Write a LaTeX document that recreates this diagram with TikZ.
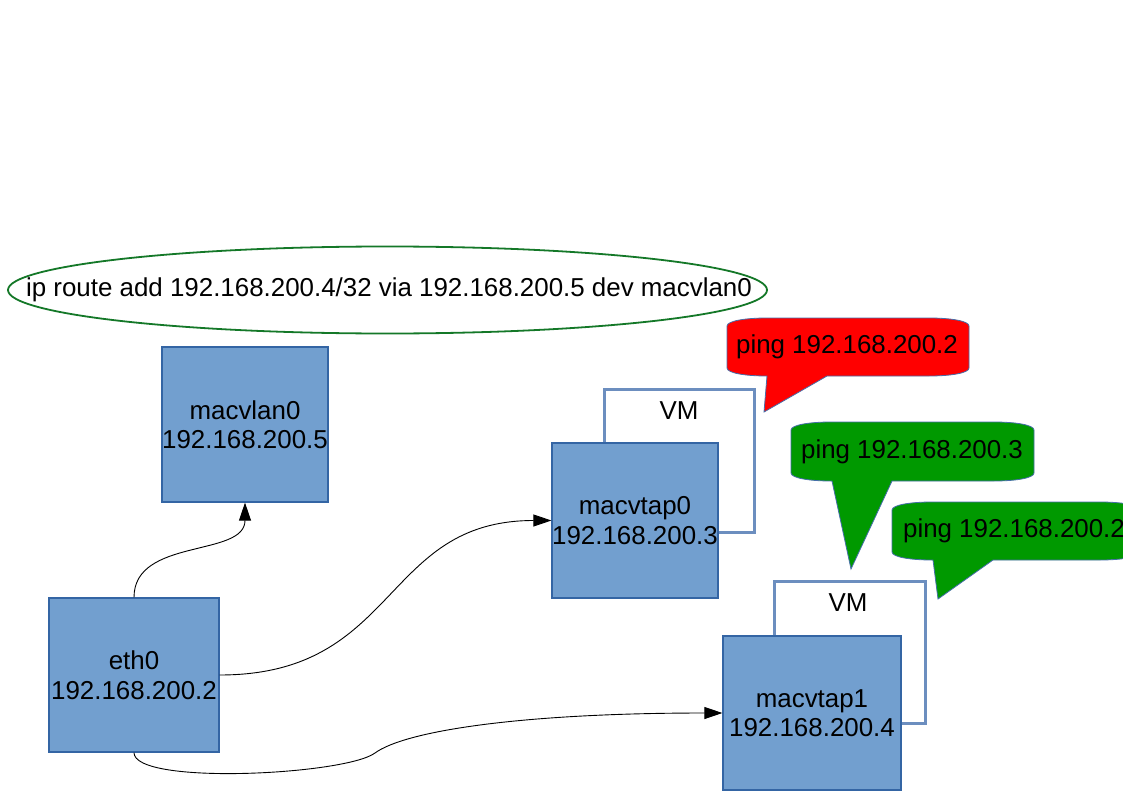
\documentclass[tikz,border=0pt]{standalone}
\usepackage{fontspec}
\setmainfont{Liberation Sans}
\usetikzlibrary{arrows.meta}
\definecolor{boxfill}{RGB}{114,159,207}
\definecolor{boxline}{RGB}{52,101,164}
\definecolor{vmline}{RGB}{108,142,191}
\definecolor{ellline}{RGB}{20,120,40}
\definecolor{pingred}{RGB}{255,0,0}
\definecolor{pinggreen}{RGB}{0,153,0}
\definecolor{calloutline}{RGB}{70,110,170}
% #1 style, #2 left, #3 top, #4 right, #5 bottom, #6 tail left, #7 tail right, #8 tip x, #9 tip y
\newcommand{\callbubble}[9]{%
  \path[#1] (#2,#3+8) .. controls (#2,#3+3) and (#2+18,#3) .. (#2+40,#3)
    -- (#4-40,#3) .. controls (#4-18,#3) and (#4,#3+3) .. (#4,#3+8)
    -- (#4,#5-8) .. controls (#4,#5-3) and (#4-18,#5) .. (#4-40,#5)
    -- (#7,#5) -- (#8,#9) -- (#6,#5) -- (#2+40,#5)
    .. controls (#2+18,#5) and (#2,#5-3) .. (#2,#5-8) -- cycle;}
\begin{document}
\begin{tikzpicture}[x=1pt,y=-1pt,
  every node/.style={font=\fontsize{25.9}{29.5}\selectfont, text=black, align=center},
  netbox/.style={draw=boxline, line width=1.2pt, fill=boxfill, inner sep=0pt},
  vmbox/.style={draw=vmline, line width=3pt, fill=white, inner sep=0pt},
  conn/.style={draw=black, line width=0.9pt, -{Triangle[length=18pt,width=12pt]}},
  redcall/.style={fill=pingred, draw=calloutline, line width=0.8pt},
  greencall/.style={fill=pinggreen, draw=calloutline, line width=0.8pt},
  routeline/.style={draw=ellline, line width=1.8pt}]
\useasboundingbox[fill=white] (0,0) rectangle (1123,794);

% route ellipse
\draw[routeline] (387.5,290) ellipse [x radius=379.5pt, y radius=43.5pt];
\node (route) at (389,290) {ip route add 192.168.200.4/32 via 192.168.200.5 dev macvlan0};

% VM frames
\node[vmbox, minimum width=150pt, minimum height=143pt] (vm1) at (679,460.5) {};
\node (vm1label) at (679,411) {VM};
\node[vmbox, minimum width=151pt, minimum height=142pt] (vm2) at (849.5,652) {};
\node (vm2label) at (848,603) {VM};

% interface boxes
\node[netbox, minimum width=166pt, minimum height=155pt] (macvlan0) at (245,424.5) {macvlan0\\192.168.200.5};
\node[netbox, minimum width=170pt, minimum height=154pt] (eth0) at (134,675) {eth0\\192.168.200.2};
\node[netbox, minimum width=166pt, minimum height=155pt] (macvtap0) at (635,520.5) {macvtap0\\192.168.200.3};
\node[netbox, minimum width=178pt, minimum height=154pt] (macvtap1) at (812,713) {macvtap1\\192.168.200.4};

% callouts
\callbubble{redcall}{727}{318}{969}{376}{767}{827}{764}{412}
\node (ping1) at (847,347) {ping 192.168.200.2};
\callbubble{greencall}{791}{422}{1034}{481}{832}{892}{851}{569}
\node (ping2) at (912,452) {ping 192.168.200.3};
\callbubble{greencall}{892}{502}{1140}{560}{933}{993}{938}{599}
\node (ping3) at (1014,531) {ping 192.168.200.2};

% connectors
\draw[conn] (eth0.north) .. controls +(0,-60) and +(0,55) .. (macvlan0.south);
\draw[conn] (eth0.east) .. controls +(180,0) and +(-170,0) .. (macvtap0.west);
\draw[conn] (eth0.south) .. controls +(0,33) and (345,775) .. (375,753)
  .. controls (405,731) and (520,713) .. (macvtap1.west);
\end{tikzpicture}
\end{document}
